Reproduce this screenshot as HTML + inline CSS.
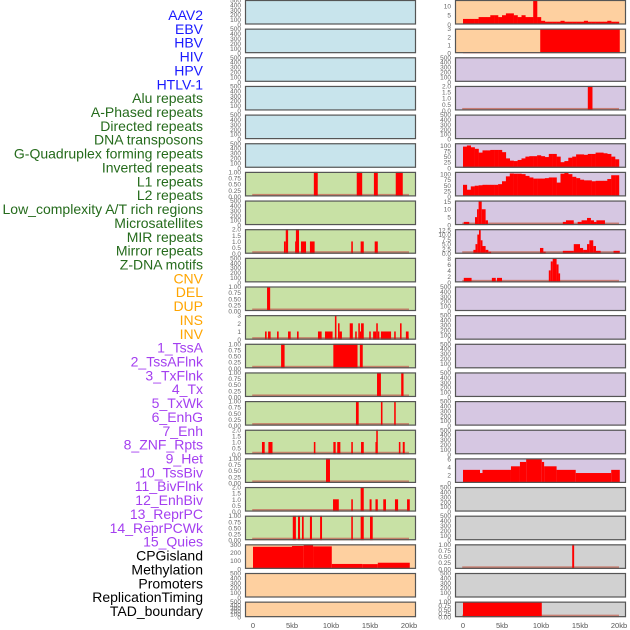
<!DOCTYPE html>
<html><head><meta charset="utf-8">
<style>
html,body{margin:0;padding:0;background:#fff;width:630px;height:630px;overflow:hidden}
svg text{font-family:"Liberation Sans",sans-serif}
</style></head>
<body>
<svg id="chart" width="630" height="630" viewBox="0 0 630 630" xmlns="http://www.w3.org/2000/svg"></svg>
<script>
// ---- data (kb intervals [start,end,value]) ----
const trackLabels = ["AAV2","EBV","HBV","HIV","HPV","HTLV-1","Alu repeats","A-Phased repeats","Directed repeats","DNA transposons","G-Quadruplex forming repeats","Inverted repeats","L1 repeats","L2 repeats","Low_complexity A/T rich regions","Microsatellites","MIR repeats","Mirror repeats","Z-DNA motifs","CNV","DEL","DUP","INS","INV","1_TssA","2_TssAFlnk","3_TxFlnk","4_Tx","5_TxWk","6_EnhG","7_Enh","8_ZNF_Rpts","9_Het","10_TssBiv","11_BivFlnk","12_EnhBiv","13_ReprPC","14_ReprPCWk","15_Quies","CPGisland","Methylation","Promoters","ReplicationTiming","TAD_boundary"];
const labelGroups = ["virus","virus","virus","virus","virus","virus","repeat","repeat","repeat","repeat","repeat","repeat","repeat","repeat","repeat","repeat","repeat","repeat","repeat","sv","sv","sv","sv","sv","chrom","chrom","chrom","chrom","chrom","chrom","chrom","chrom","chrom","chrom","chrom","chrom","chrom","chrom","chrom","other","other","other","other","other"];
const xTickValues = [0,5,10,15,20];
const xTickLabels = ["0","5kb","10kb","15kb","20kb"];

const l1Bars = [[7.8,8.3,1],[13.3,14.0,1],[15.5,16.0,1],[18.3,19.2,1]];
const mirBars = [[3.97,4.2,1],[4.2,4.5,2],[5.4,5.5,1],[5.5,5.9,2],[6.15,6.8,1],[7.3,7.9,1],[12.6,12.8,1],[13.8,14.2,1],[15.6,16.0,1]];
const delBars = [[1.8,2.2,1]];
const invBars = [[1.54,1.75,1],[1.92,2.26,1],[3.08,3.29,1],[4.49,4.83,1],[5.64,5.85,1],[8.33,8.8,1],[9.23,10.2,1],[10.5,10.7,3],[10.9,11.1,2],[11.1,11.4,1],[12.4,12.8,2],[13.1,13.3,1],[13.5,13.7,2],[13.7,13.85,1],[13.85,14.2,2],[14.9,15.1,1],[15.4,15.8,1],[15.8,16.0,2],[16.0,16.2,1],[16.4,17.7,1],[18.1,18.3,1],[18.85,19.05,2],[19.6,19.95,1]];
const tssABars = [[3.6,4.05,1],[10.3,13.4,1],[13.7,14.07,1]];
const tssAFlnkBars = [[15.9,16.4,1],[19.0,19.3,1]];
const txFlnkBars = [[13.2,13.55,1],[16.4,16.6,1],[18.1,18.3,1]];
const enhGBars = [[1.15,1.5,1],[1.97,2.5,1],[7.8,8.0,1],[10.3,10.6,1],[10.8,11.2,1],[12.6,12.8,1],[13.85,14.2,1],[15.7,15.8,1],[15.8,16.0,2],[18.7,18.9,1],[19.2,19.45,1]];
const enhBars = [[9.36,9.87,1]];
const znfBars = [[10.26,11.0,1],[12.6,12.8,1],[13.8,14.2,2],[14.95,15.2,1],[15.7,16.0,1],[16.7,17.05,1],[18.2,18.6,1],[19.75,20.1,1]];
const hetBars = [[5.1,5.5,1],[5.77,6.03,1],[6.28,6.5,1],[7.3,7.56,1],[8.6,8.85,1],[12.6,12.8,1],[13.8,14.2,1],[15.0,15.35,1]];
const cpgBars = [[0,5.0,270],[5.0,6.5,280],[6.5,7.7,290],[7.7,10.1,275],[10.1,14.0,60],[14.0,16.0,58],[16.0,20.1,75]];

const aav2Bins = [3,3,3,3,4,4,4,5,5,4,5,6,6,5,4,5,4,4,13,4,2,1.5,1.5,1.5,1.5,2,1.5,1.5,1.5,1.5,1.5,2,1.5,1.5,1.5,1.5,1.5,2,1.5,1.5];
const ebvBars = [[0,9.9,0.1],[9.9,20.1,3]];
const hpvBars = [[16.0,16.6,2]];
const gquadBins = [95,100,92,85,68,78,78,80,80,80,70,42,32,30,35,42,50,52,52,56,52,48,62,62,50,25,30,45,50,60,60,58,62,62,68,68,65,62,50,38];
const invertedBins = [52,30,45,48,50,52,52,52,52,55,68,90,103,102,102,100,92,85,80,80,80,82,85,85,62,102,105,100,88,82,75,72,72,68,70,70,70,78,95,95];
const lowATBars = [[0.1,0.8,2],[1.54,1.8,5],[1.8,2.0,10],[2.0,2.4,15],[2.4,2.9,10],[2.9,3.2,3],[12.8,13.2,2],[13.2,14.2,3],[14.7,15.2,2],[15.2,15.9,3],[15.9,16.4,4.5],[16.4,16.8,3],[16.8,17.1,2],[17.1,18.2,3]];
const microBars = [[1.33,1.6,2],[1.6,1.84,5],[1.84,2.05,10],[2.05,2.27,12.5],[2.27,2.5,7],[2.5,2.9,4],[2.9,3.25,2],[3.25,3.6,1],[9.87,10.3,3],[10.3,10.6,1],[12.8,14.2,1.5],[14.2,15.0,5],[15.0,15.4,3],[15.4,15.9,2],[15.9,16.2,5],[16.2,16.7,7],[16.7,17.05,4],[17.05,17.65,1.5],[19.3,20.1,1.5]];
const zdnaBars = [[0.1,1.1,1.5],[3.7,4.2,1.5],[4.36,5.0,1.5],[11.0,11.25,4],[11.25,11.5,7],[11.5,12.0,8],[12.0,12.25,6],[12.25,12.45,3]];
const chromHetBars = [[0,2.18,3.3],[2.18,2.5,2.5],[2.5,6.15,3.3],[6.15,7.3,4.2],[7.3,8.1,5.3],[8.1,10.1,6],[10.1,10.4,5.3],[10.4,12.0,4.2],[12.0,14.45,3.3],[14.45,19.0,2.5],[19.0,20.1,3.3]];
const methylBars = [[14.0,14.25,1]];
const tadBars = [[0,10.1,1]];

const t500 = ["0","100","200","300","400","500"];
const t1 = ["0.00","0.25","0.50","0.75","1.00"];
const t2 = ["0.0","0.5","1.0","1.5","2.0"];

const C = {blue:"#c8e4ec",green:"#c8e1a5",orange:"#fed0a0",purple:"#d6c7e2",gray:"#d1d1d1"};
// panel specs: row, side(0 left/1 right), bg, max, tick values, tick labels, bars, bins
const panels = [
 {r:0,s:0,bg:C.blue,max:500,tv:[0,100,200,300,400,500],tl:t500},
 {r:1,s:0,bg:C.blue,max:500,tv:[0,100,200,300,400,500],tl:t500},
 {r:2,s:0,bg:C.blue,max:500,tv:[0,100,200,300,400,500],tl:t500},
 {r:3,s:0,bg:C.blue,max:500,tv:[0,100,200,300,400,500],tl:t500},
 {r:4,s:0,bg:C.blue,max:500,tv:[0,100,200,300,400,500],tl:t500},
 {r:5,s:0,bg:C.blue,max:500,tv:[0,100,200,300,400,500],tl:t500},
 {r:6,s:0,bg:C.green,max:1,tv:[0,.25,.5,.75,1],tl:t1,bars:l1Bars},
 {r:7,s:0,bg:C.green,max:500,tv:[0,100,200,300,400,500],tl:t500},
 {r:8,s:0,bg:C.green,max:2,tv:[0,.5,1,1.5,2],tl:t2,bars:mirBars},
 {r:9,s:0,bg:C.green,max:500,tv:[0,100,200,300,400,500],tl:t500},
 {r:10,s:0,bg:C.green,max:1,tv:[0,.25,.5,.75,1],tl:t1,bars:delBars},
 {r:11,s:0,bg:C.green,max:3,tv:[0,1,2,3],tl:["0","1","2","3"],bars:invBars},
 {r:12,s:0,bg:C.green,max:1,tv:[0,.25,.5,.75,1],tl:t1,bars:tssABars},
 {r:13,s:0,bg:C.green,max:1,tv:[0,.25,.5,.75,1],tl:t1,bars:tssAFlnkBars},
 {r:14,s:0,bg:C.green,max:1,tv:[0,.25,.5,.75,1],tl:t1,bars:txFlnkBars},
 {r:15,s:0,bg:C.green,max:2,tv:[0,.5,1,1.5,2],tl:t2,bars:enhGBars},
 {r:16,s:0,bg:C.green,max:1,tv:[0,.25,.5,.75,1],tl:t1,bars:enhBars},
 {r:17,s:0,bg:C.green,max:2,tv:[0,.5,1,1.5,2],tl:t2,bars:znfBars},
 {r:18,s:0,bg:C.green,max:1,tv:[0,.25,.5,.75,1],tl:t1,bars:hetBars},
 {r:19,s:0,bg:C.orange,max:300,tv:[0,100,200,300],tl:["0","100","200","300"],bars:cpgBars,nobase:1},
 {r:20,s:0,bg:C.orange,max:500,tv:[0,100,200,300,400,500],tl:t500},
 {r:21,s:0,bg:C.orange,max:500,tv:[0,100,200,300,400,500],tl:t500},
 {r:0,s:1,bg:C.orange,max:13.2,tv:[0,5,10],tl:["0","5","10"],bins:aav2Bins,nobase:1},
 {r:1,s:1,bg:C.orange,max:3,tv:[0,1,2,3],tl:["0","1","2","3"],bars:ebvBars,nobase:1},
 {r:2,s:1,bg:C.purple,max:500,tv:[0,100,200,300,400,500],tl:t500},
 {r:3,s:1,bg:C.purple,max:2,tv:[0,.5,1,1.5,2],tl:t2,bars:hpvBars},
 {r:4,s:1,bg:C.purple,max:500,tv:[0,100,200,300,400,500],tl:t500},
 {r:5,s:1,bg:C.purple,max:110,tv:[0,25,50,75,100],tl:["0","25","50","75","100"],bins:gquadBins,nobase:1},
 {r:6,s:1,bg:C.purple,max:110,tv:[0,25,50,75,100],tl:["0","25","50","75","100"],bins:invertedBins,nobase:1},
 {r:7,s:1,bg:C.purple,max:15.5,tv:[0,5,10,15],tl:["0","5","10","15"],bars:lowATBars},
 {r:8,s:1,bg:C.purple,max:12.8,tv:[0,2.5,5,7.5,10,12.5],tl:["0.0","2.5","5.0","7.5","10.0","12.5"],bars:microBars},
 {r:9,s:1,bg:C.purple,max:8.2,tv:[0,2,4,6,8],tl:["0","2","4","6","8"],bars:zdnaBars},
 {r:10,s:1,bg:C.purple,max:500,tv:[0,100,200,300,400,500],tl:t500},
 {r:11,s:1,bg:C.purple,max:500,tv:[0,100,200,300,400,500],tl:t500},
 {r:12,s:1,bg:C.purple,max:500,tv:[0,100,200,300,400,500],tl:t500},
 {r:13,s:1,bg:C.purple,max:500,tv:[0,100,200,300,400,500],tl:t500},
 {r:14,s:1,bg:C.purple,max:500,tv:[0,100,200,300,400,500],tl:t500},
 {r:15,s:1,bg:C.purple,max:500,tv:[0,100,200,300,400,500],tl:t500},
 {r:16,s:1,bg:C.purple,max:6.2,tv:[0,2,4,6],tl:["0","2","4","6"],bars:chromHetBars,nobase:1},
 {r:17,s:1,bg:C.gray,max:500,tv:[0,100,200,300,400,500],tl:t500},
 {r:18,s:1,bg:C.gray,max:500,tv:[0,100,200,300,400,500],tl:t500},
 {r:19,s:1,bg:C.gray,max:1,tv:[0,.25,.5,.75,1],tl:t1,bars:methylBars},
 {r:20,s:1,bg:C.gray,max:500,tv:[0,100,200,300,400,500],tl:t500},
 {r:21,s:1,bg:C.gray,max:1,tv:[0,.25,.5,.75,1],tl:t1,bars:tadBars}
];

const svg = document.getElementById('chart');
const NS = "http://www.w3.org/2000/svg";
function mk(tag, attrs, parent){const e=document.createElementNS(NS,tag);for(const k in attrs)e.setAttribute(k,attrs[k]);(parent||svg).appendChild(e);return e;}
const KB = 7.8;
function xScale(side, kb){return (side ? 463 : 253) + kb*KB;}
function panelTop(r){return r*28.65;}
function panelH(r){return r===21 ? 15.5 : 24.5;}
function yScale(p, v){const t=panelTop(p.r), h=panelH(p.r); return t+h - v/p.max*h;}

const groupColor = {virus:"#1a1aff",repeat:"#256b1c",sv:"#ffa500",chrom:"#a43ff0",other:"#000"};
trackLabels.forEach((lab,i)=>{
  const t = mk('text',{x:203,y:20+i*13.86,'text-anchor':'end','font-size':'14',fill:groupColor[labelGroups[i]]});
  
  
  t.textContent = lab;
});

panels.forEach(p=>{
  const g = mk('g',{});
  
  
  const x0 = p.s ? 455 : 245, w = 171, top = panelTop(p.r), h = panelH(p.r);
  mk('rect',{x:x0,y:top,width:w,height:h,fill:p.bg},g);
  if(!p.nobase && (p.bars||p.bins)){
    mk('rect',{x:xScale(p.s,-0.1),y:top+h-2.5,width:20.1*KB,height:2.5,fill:'#c46a5a','fill-opacity':'0.8'},g);
  }
  if(p.bins){
    p.bins.forEach((v,i)=>{
      const b = mk('rect',{x:xScale(p.s,i*0.5),y:yScale(p,v),width:0.5*KB+0.2,height:yScale(p,0)-yScale(p,v),fill:'#ff0000'},g);
      
      
    });
  }
  if(p.bars){
    p.bars.forEach(d=>{
      const b = mk('rect',{x:xScale(p.s,d[0]),y:yScale(p,Math.min(d[2],p.max)),width:Math.max(1,(d[1]-d[0])*KB),height:yScale(p,0)-yScale(p,Math.min(d[2],p.max)),fill:'#ff0000'},g);
      
      
    });
  }
  mk('rect',{x:x0+0.5,y:top+0.5,width:w-1,height:h-1,fill:'none',stroke:'#555','stroke-width':'1.2'},g);
  const tx = p.s ? 451 : 241;
  p.tv.forEach((v,i)=>{
    const t = mk('text',{x:tx,y:yScale(p,v)+2.5,'text-anchor':'end','font-size':'6.5',fill:'#666'},g);
    
    
    t.textContent = p.tl[i];
  });
});

[0,1].forEach(s=>{
  xTickValues.forEach((v,i)=>{
    const t = mk('text',{x:xScale(s,v),y:628,'text-anchor':'middle','font-size':'7.5',fill:'#555'});
    
    
    t.textContent = xTickLabels[i];
  });
});
</script>
</body></html>
